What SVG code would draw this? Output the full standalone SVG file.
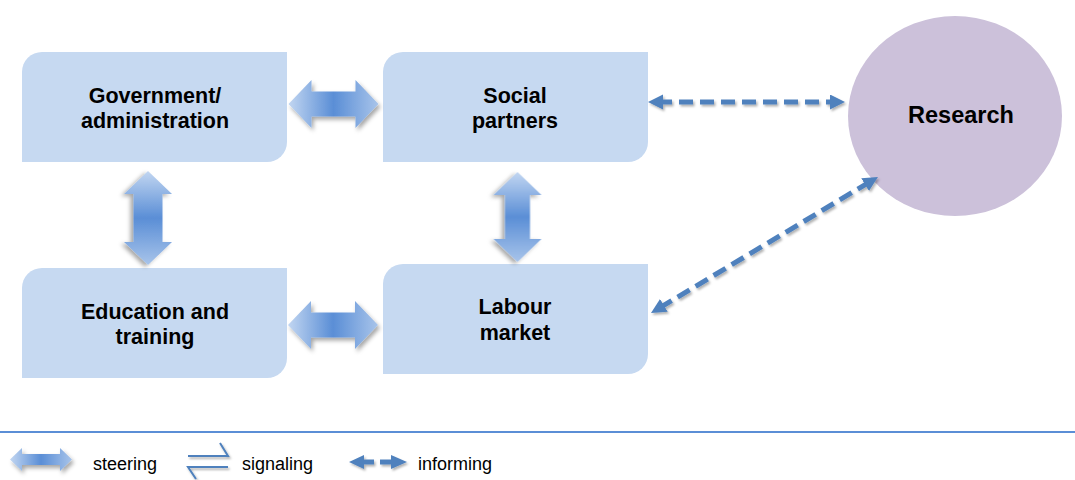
<svg xmlns="http://www.w3.org/2000/svg" width="1075" height="480" viewBox="0 0 1075 480">
<style>
.box{fill:#c6d9f1}
.lbl{font-family:"Liberation Sans",Arial,sans-serif;font-weight:bold;font-size:21.5px;fill:#000;text-anchor:middle}
.big{font-size:23.5px}
.leg{font-family:"Liberation Sans",Arial,sans-serif;font-size:18px;fill:#000}
.dash{stroke:#4f81bd;stroke-width:5;stroke-dasharray:14 7;fill:none}
.steer{filter:url(#sh)}
</style>
<defs>
<linearGradient id="gh" x1="0" y1="0" x2="1" y2="0">
<stop offset="0" stop-color="#c2d6f1"/>
<stop offset="0.5" stop-color="#5a8ed6"/>
<stop offset="1" stop-color="#a8c4ea"/>
</linearGradient>
<filter id="sh" x="-20%" y="-30%" width="150%" height="170%">
<feDropShadow dx="2" dy="3" stdDeviation="2" flood-color="#000" flood-opacity="0.35"/>
</filter>
<filter id="sh2" x="-10%" y="-30%" width="130%" height="180%">
<feDropShadow dx="1.5" dy="2" stdDeviation="1.2" flood-color="#000" flood-opacity="0.3"/>
</filter>
<marker id="ah" markerUnits="userSpaceOnUse" markerWidth="16" markerHeight="16" refX="5" refY="7.5" orient="auto-start-reverse">
<path d="M0,0 L15,7.5 L0,15 Z" fill="#4f81bd"/>
</marker>
<path id="dbl" d="M-45,0 L-22,-24 L-22,-12.5 L22,-12.5 L22,-24 L45,0 L22,24 L22,12.5 L-22,12.5 L-22,24 Z"/>
<path id="dblv" d="M-47,0 L-24,-24 L-24,-14.5 L24,-14.5 L24,-24 L47,0 L24,24 L24,14.5 L-24,14.5 L-24,24 Z"/>
</defs>

<g id="gov">
<path class="box" d="M42,52 H287 V142 A20,20 0 0 1 267,162 H22 V72 A20,20 0 0 1 42,52 Z"/>
<text class="lbl" x="155" y="103">Government/</text>
<text class="lbl" x="155" y="128">administration</text>
</g>
<g id="social">
<path class="box" d="M403,52 H648 V142 A20,20 0 0 1 628,162 H383 V72 A20,20 0 0 1 403,52 Z"/>
<text class="lbl" x="515" y="103">Social</text>
<text class="lbl" x="515" y="128">partners</text>
</g>
<g id="education">
<path class="box" d="M42,268 H287 V358 A20,20 0 0 1 267,378 H22 V288 A20,20 0 0 1 42,268 Z"/>
<text class="lbl" x="155" y="319">Education and</text>
<text class="lbl" x="155" y="344">training</text>
</g>
<g id="labour">
<path class="box" d="M403,264 H648 V354 A20,20 0 0 1 628,374 H383 V284 A20,20 0 0 1 403,264 Z"/>
<text class="lbl" x="515" y="314">Labour</text>
<text class="lbl" x="515" y="340">market</text>
</g>
<g id="research">
<ellipse cx="955" cy="116" rx="107" ry="100" fill="#ccc1da"/>
<text class="lbl big" x="961" y="123">Research</text>
</g>

<g id="connectors">
<use href="#dbl" fill="url(#gh)" class="steer" transform="translate(333.5,104)"/>
<use href="#dbl" fill="url(#gh)" class="steer" transform="translate(333,325)"/>
<use href="#dblv" fill="url(#gh)" class="steer" transform="translate(148,218) rotate(90)"/>
<use href="#dbl" fill="url(#gh)" class="steer" transform="translate(517.5,217) rotate(90)"/>
<g filter="url(#sh2)">
<line class="dash" x1="658" y1="102" x2="835" y2="102" marker-start="url(#ah)" marker-end="url(#ah)"/>
<line class="dash" x1="659.6" y1="307.9" x2="869.4" y2="182.1" marker-start="url(#ah)" marker-end="url(#ah)"/>
</g>
</g>

<g id="legend">
<line x1="0" y1="432" x2="1075" y2="432" stroke="#5b8ed6" stroke-width="2"/>
<path d="M10,459.5 L22,448 L22,454 L60,454 L60,448 L72,459.5 L60,471 L60,465 L22,465 L22,471 Z" fill="url(#gh)" filter="url(#sh)"/>
<text class="leg" x="93" y="470">steering</text>
<g stroke="#4f81bd" stroke-width="2" fill="none" filter="url(#sh2)">
<path d="M188,456 H228 L220,443"/>
<path d="M228,467 H188 L196,479"/>
</g>
<text class="leg" x="242" y="470">signaling</text>
<g fill="#4f81bd" filter="url(#sh2)">
<polygon points="349,462 364,455 364,469"/>
<rect x="364" y="459.5" width="10" height="5"/>
<rect x="380" y="459.5" width="11" height="5"/>
<polygon points="391,455 407,462 391,469"/>
</g>
<text class="leg" x="418" y="470">informing</text>
</g>
</svg>
